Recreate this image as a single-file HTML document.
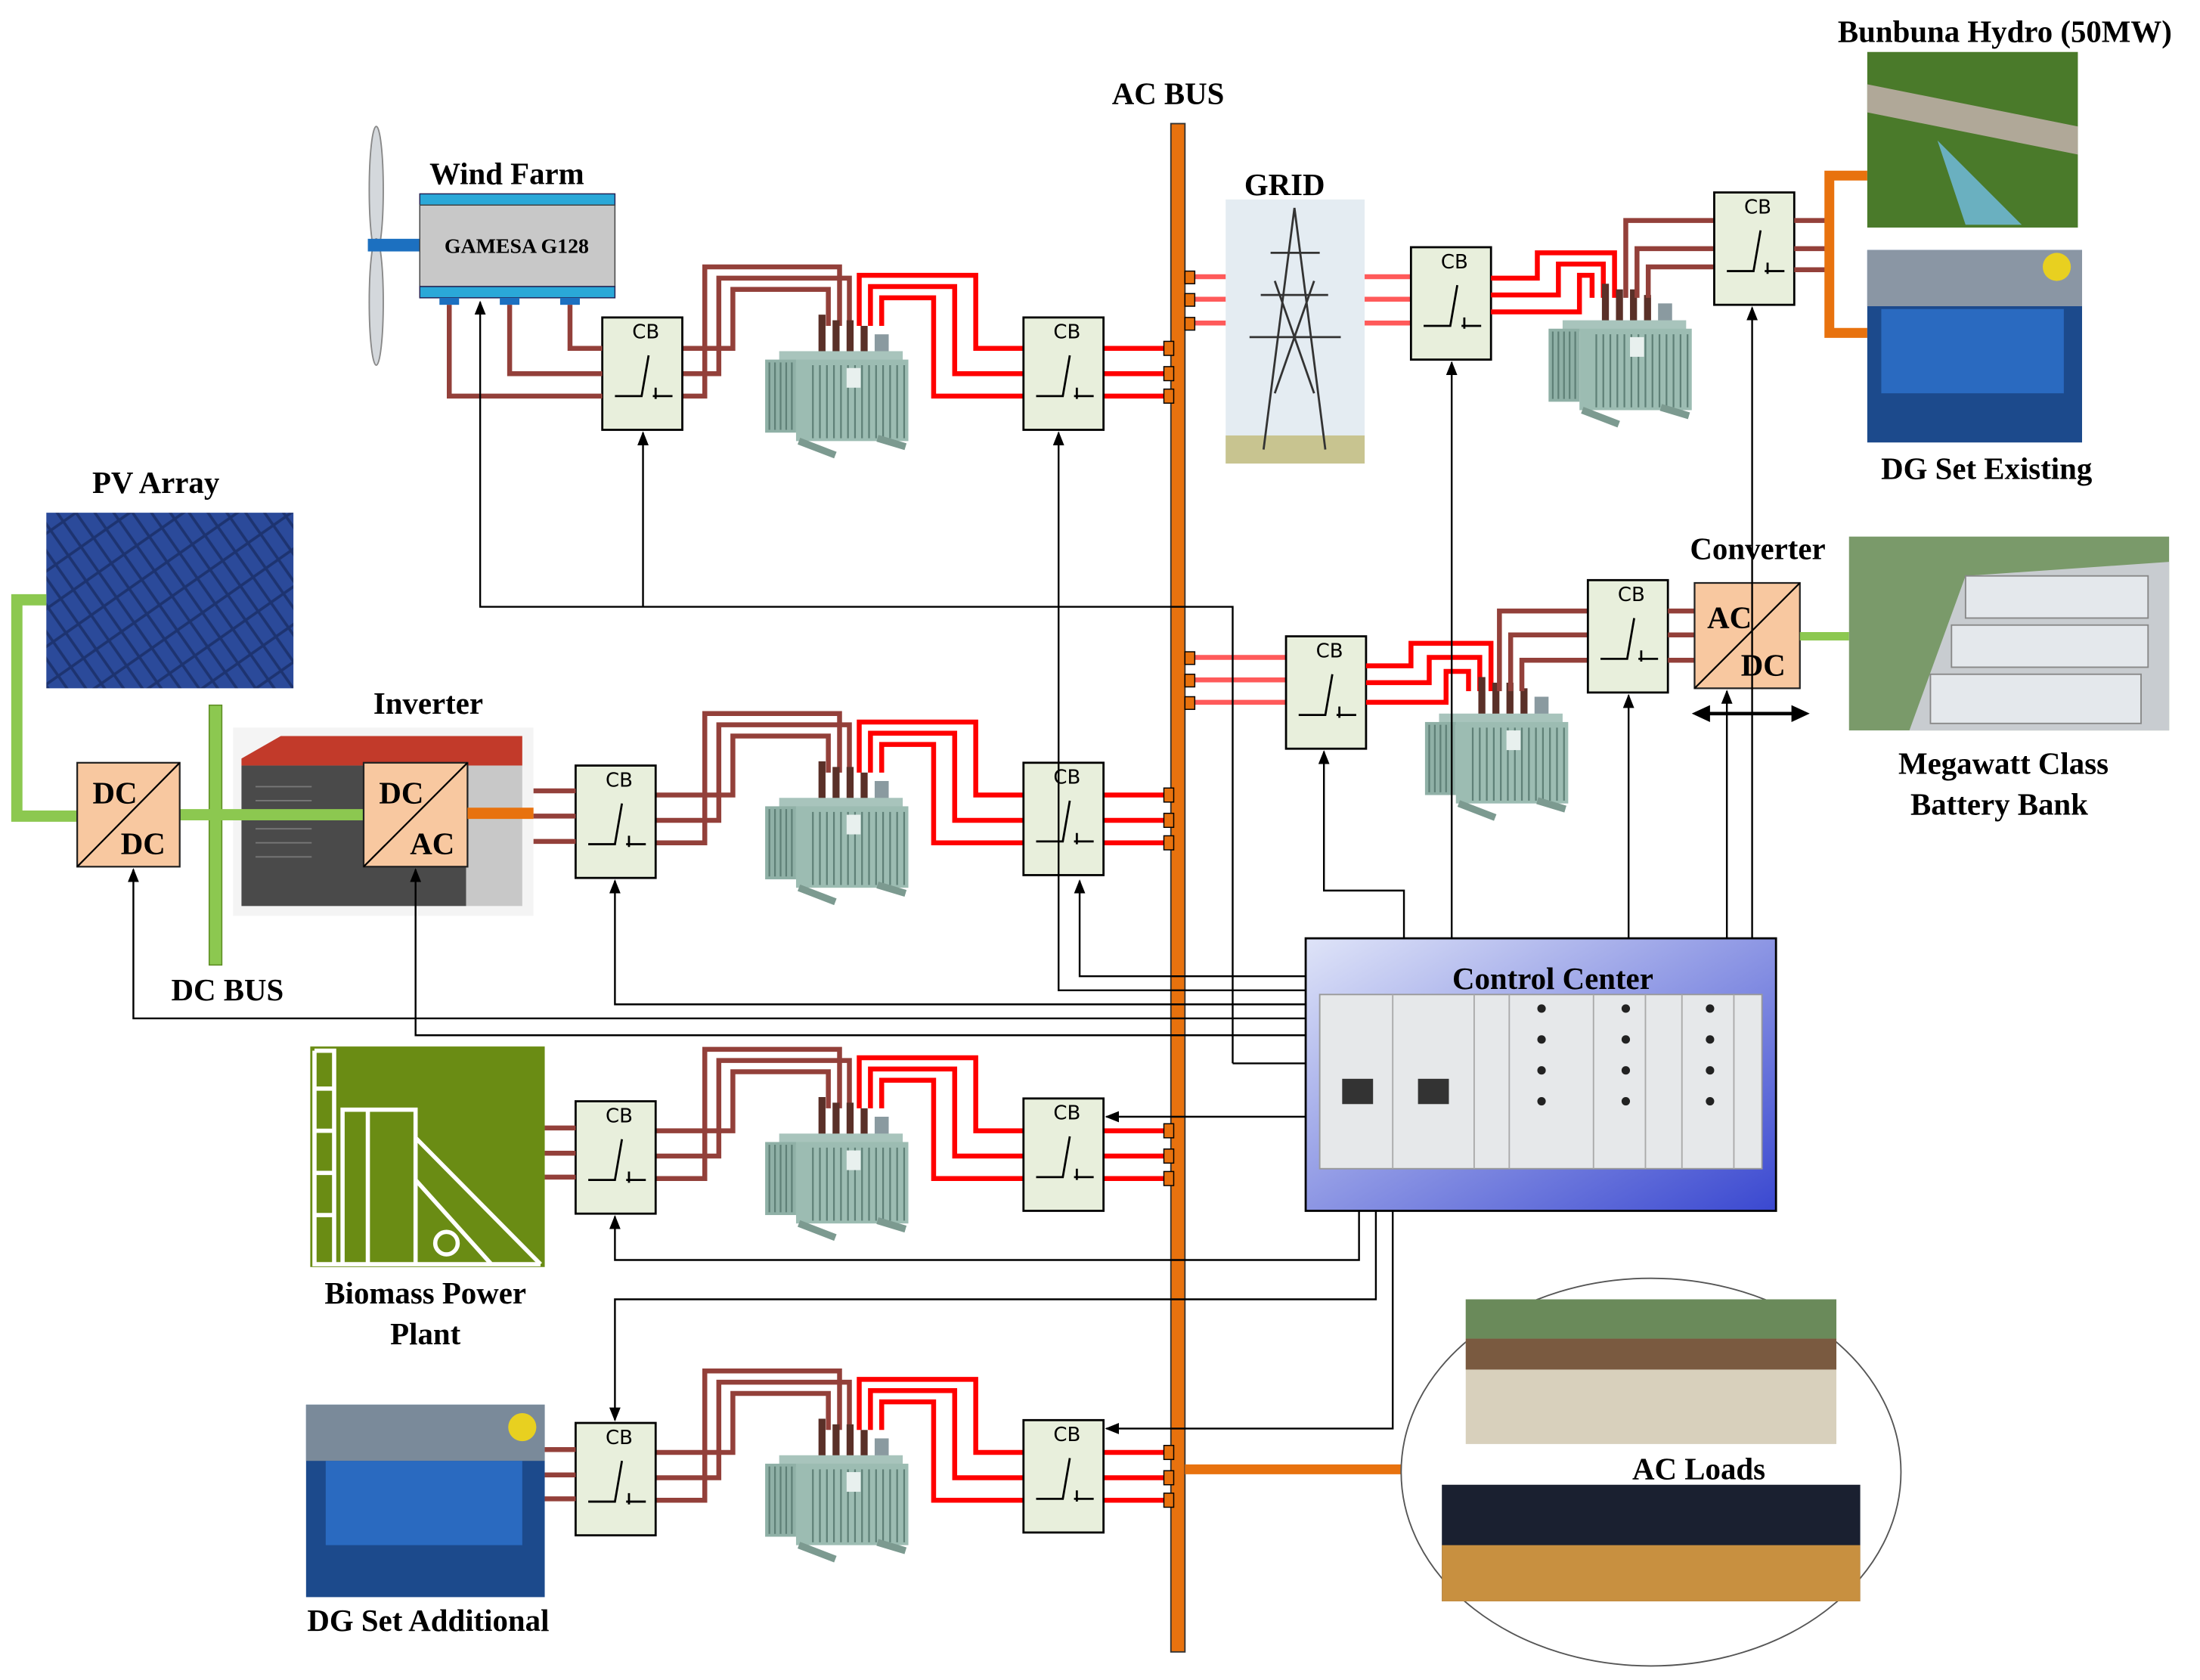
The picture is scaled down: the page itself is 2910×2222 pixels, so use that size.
<!DOCTYPE html>
<html><head><meta charset="utf-8"><style>
html,body{margin:0;padding:0;background:#fff}
svg{display:block}
.lb{font-family:"Liberation Serif",serif;font-weight:bold;font-size:22px;fill:#000}
.cb{font-family:"DejaVu Sans","Liberation Sans",sans-serif;font-size:14px;fill:#000}
.br{fill:none;stroke:#93403a;stroke-width:3.5}
.rd{fill:none;stroke:#ff0000;stroke-width:3.5}
.lr{fill:none;stroke:#ff5a5a;stroke-width:3.5}
.ct{fill:none;stroke:#000;stroke-width:1.3}
</style></head><body>
<svg width="2910" height="2222" viewBox="0 0 1567 1196" preserveAspectRatio="none" xmlns="http://www.w3.org/2000/svg">
<defs>
<marker id="ar" markerWidth="10" markerHeight="10" refX="9" refY="5" orient="auto" markerUnits="userSpaceOnUse"><path d="M0,1 L10,5 L0,9 z" fill="#000"/></marker>
<g id="cbx">
<rect x="0" y="0" width="57" height="80" fill="#e8efdc" stroke="#000" stroke-width="1.5"/>
<path d="M9,56 L28,56 L33,27 M36,56 L50,56 M38,50 L38,58" fill="none" stroke="#000" stroke-width="1.5"/>
</g>
<g id="tx">
<rect x="38" y="-8" width="5" height="30" fill="#5a3028"/><rect x="48" y="-4" width="5" height="26" fill="#5a3028"/><rect x="58" y="-4" width="5" height="26" fill="#5a3028"/><rect x="68" y="0" width="5" height="22" fill="#5a3028"/><rect x="78" y="6" width="10" height="14" fill="#8a9aa0"/>
<rect x="10" y="18" width="88" height="8" fill="#a8c4bc"/>
<rect x="0" y="24" width="22" height="52" fill="#8fb0a6"/>
<rect x="22" y="24" width="80" height="58" fill="#9cbcb2"/>
<g stroke="#5f8077" stroke-width="1.2">
<path d="M3,26V74M7,26V74M11,26V74M15,26V74M19,26V74M34,28V80M39,28V80M44,28V80M49,28V80M54,28V80M59,28V80M64,28V80M69,28V80M74,28V80M79,28V80M84,28V80M89,28V80M94,28V80M99,28V80"/>
</g>
<rect x="58" y="30" width="10" height="14" fill="#e8f0ee"/>
<path d="M24,82 L50,92 M80,80 L100,86" stroke="#7c9a90" stroke-width="5"/>
</g>
<g id="feed">
<path class="br" d="M467,248 H522 V206 H590 V232"/>
<path class="br" d="M467,266 H512 V198 H605 V232"/>
<path class="br" d="M467,282 H502 V190 H598 V232"/>
<path class="rd" d="M612,232 V196 H695 V248 H729"/>
<path class="rd" d="M620,232 V204 H680 V266 H729"/>
<path class="rd" d="M628,232 V212 H665 V282 H729"/>
<path class="rd" d="M786,248 H832 M786,266 H832 M786,282 H832"/>
<rect x="829" y="243" width="7" height="10" fill="#e8720e" stroke="#000" stroke-width="0.8"/>
<rect x="829" y="261" width="7" height="10" fill="#e8720e" stroke="#000" stroke-width="0.8"/>
<rect x="829" y="277" width="7" height="10" fill="#e8720e" stroke="#000" stroke-width="0.8"/>
<use href="#tx" x="545" y="232"/>
</g>
<linearGradient id="cc" x1="0" y1="0" x2="1" y2="1"><stop offset="0" stop-color="#dfe4f8"/><stop offset="1" stop-color="#3a48d0"/></linearGradient>
<pattern id="pv" width="22" height="22" patternUnits="userSpaceOnUse" patternTransform="rotate(-35)"><rect width="22" height="22" fill="#1d3370"/><rect x="1" y="1" width="9" height="20" fill="#2b4a9a"/><rect x="12" y="1" width="9" height="20" fill="#2b4a9a"/></pattern>
</defs>

<rect x="834" y="88" width="10" height="1088" fill="#e8720e" stroke="#333" stroke-width="1"/>
<text class="lb" x="832" y="74" text-anchor="middle">AC BUS</text>

<use href="#feed"/>
<use href="#feed" y="318"/>
<use href="#feed" y="557"/>
<use href="#feed" y="786"/>
<use href="#cbx" x="429" y="226"/><text class="cb" x="460" y="241" text-anchor="middle">CB</text>
<use href="#cbx" x="729" y="226"/><text class="cb" x="760" y="241" text-anchor="middle">CB</text>
<use href="#cbx" x="410" y="545"/><text class="cb" x="441" y="560" text-anchor="middle">CB</text>
<use href="#cbx" x="729" y="543"/><text class="cb" x="760" y="558" text-anchor="middle">CB</text>
<use href="#cbx" x="410" y="784"/><text class="cb" x="441" y="799" text-anchor="middle">CB</text>
<use href="#cbx" x="729" y="782"/><text class="cb" x="760" y="797" text-anchor="middle">CB</text>
<use href="#cbx" x="410" y="1013"/><text class="cb" x="441" y="1028" text-anchor="middle">CB</text>
<use href="#cbx" x="729" y="1011"/><text class="cb" x="760" y="1026" text-anchor="middle">CB</text>

<ellipse cx="268" cy="135" rx="5" ry="45" fill="#d4d8dc" stroke="#888"/>
<ellipse cx="268" cy="215" rx="5" ry="45" fill="#d4d8dc" stroke="#888"/>
<rect x="262" y="170" width="38" height="9" fill="#1c70c0"/>
<rect x="299" y="138" width="139" height="8" fill="#2aa8d8" stroke="#225" stroke-width="0.8"/>
<rect x="299" y="146" width="139" height="58" fill="#c8c8c8" stroke="#444" stroke-width="0.8"/>
<rect x="299" y="204" width="139" height="8" fill="#2aa8d8" stroke="#225" stroke-width="0.8"/>
<rect x="313" y="212" width="14" height="5" fill="#1c70c0"/><rect x="356" y="212" width="14" height="5" fill="#1c70c0"/><rect x="399" y="212" width="14" height="5" fill="#1c70c0"/>
<text x="368" y="180" text-anchor="middle" style="font-family:'Liberation Serif',serif;font-weight:bold;font-size:15px">GAMESA G128</text>
<text class="lb" x="361" y="131" text-anchor="middle">Wind Farm</text>
<path class="br" d="M320,217 V282 H429 M363,217 V266 H429 M406,217 V248 H429"/>

<rect x="33" y="365" width="176" height="125" fill="url(#pv)"/>
<text class="lb" x="111" y="351" text-anchor="middle">PV Array</text>
<path d="M33,427 H12 V581 H55" fill="none" stroke="#8cc850" stroke-width="8"/>
<rect x="149" y="502" width="9" height="185" fill="#8cc850" stroke="#5a8a20" stroke-width="0.8"/>
<text class="lb" x="162" y="712" text-anchor="middle">DC BUS</text>
<rect x="166" y="518" width="214" height="134" fill="#f4f4f4"/>
<path d="M172,540 L200,524 L372,524 L372,545 L172,545 z" fill="#c23a2a"/>
<rect x="172" y="545" width="160" height="100" fill="#4a4a4a"/>
<rect x="332" y="545" width="40" height="100" fill="#c8c8c8"/>
<g stroke="#777" stroke-width="1"><path d="M182,560h40M182,570h40M182,580h40M182,590h40M182,600h40M182,610h40"/></g>
<text class="lb" x="305" y="508" text-anchor="middle">Inverter</text>
<path d="M128,580 H260" stroke="#8cc850" stroke-width="8"/>
<rect x="55" y="543" width="73" height="74" fill="#f8c8a0" stroke="#222" stroke-width="1.2"/>
<path d="M55,617 L128,543" stroke="#000" stroke-width="1.2"/>
<text class="lb" x="66" y="572">DC</text><text class="lb" x="86" y="608">DC</text>
<rect x="259" y="543" width="74" height="74" fill="#f8c8a0" stroke="#222" stroke-width="1.2"/>
<path d="M259,617 L333,543" stroke="#000" stroke-width="1.2"/>
<text class="lb" x="270" y="572">DC</text><text class="lb" x="292" y="608">AC</text>
<path d="M333,579 H380" stroke="#e8720e" stroke-width="8"/>
<path class="br" d="M380,563 H410 M380,581 H410 M380,599 H410"/>

<rect x="221" y="745" width="167" height="157" fill="#6a8c14"/>
<g fill="none" stroke="#fff" stroke-width="3">
<path d="M224,748 V900 H385 M224,748 H238 V900 M224,775 H238 M224,805 H238 M224,835 H238 M224,865 H238"/>
<path d="M244,900 V790 H296 V900 M262,790 V900 M296,810 L385,900 M296,840 L350,900"/>
<circle cx="318" cy="885" r="8"/>
</g>
<text class="lb" x="303" y="928" text-anchor="middle">Biomass Power</text>
<text class="lb" x="303" y="957" text-anchor="middle">Plant</text>
<path class="br" d="M388,803 H410 M388,821 H410 M388,838 H410"/>

<rect x="218" y="1000" width="170" height="137" fill="#1c4a8c"/>
<rect x="218" y="1000" width="170" height="40" fill="#7a8a9a"/>
<rect x="232" y="1040" width="140" height="60" fill="#2a6ac0"/>
<circle cx="372" cy="1016" r="10" fill="#e8d020"/>
<text class="lb" x="305" y="1161" text-anchor="middle">DG Set Additional</text>
<path class="br" d="M388,1032 H410 M388,1050 H410 M388,1067 H410"/>

<rect x="873" y="142" width="99" height="188" fill="#e4ecf2"/>
<rect x="873" y="310" width="99" height="20" fill="#c8c490"/>
<path d="M922,148 L900,320 M922,148 L944,320 M905,180 H940 M898,210 H946 M890,240 H955 M908,200 L936,280 M936,200 L908,280" stroke="#333" stroke-width="1.5" fill="none"/>
<text class="lb" x="915" y="139" text-anchor="middle">GRID</text>
<path class="lr" d="M844,197 H873 M844,213 H873 M844,230 H873 M972,197 H1005 M972,213 H1005 M972,230 H1005"/>
<rect x="844" y="193" width="7" height="9" fill="#e8720e" stroke="#000" stroke-width="0.8"/>
<rect x="844" y="209" width="7" height="9" fill="#e8720e" stroke="#000" stroke-width="0.8"/>
<rect x="844" y="226" width="7" height="9" fill="#e8720e" stroke="#000" stroke-width="0.8"/>
<use href="#cbx" x="1005" y="176"/><text class="cb" x="1036" y="191" text-anchor="middle">CB</text>
<path class="rd" d="M1062,198 H1095 V180 H1150 V212 M1062,210 H1110 V188 H1142 V212 M1062,222 H1125 V196 H1134 V212"/>
<use href="#tx" x="1103" y="210"/>
<path class="br" d="M1158,212 V157 H1221 M1166,212 V177 H1221 M1174,212 V190 H1221"/>
<use href="#cbx" x="1221" y="137"/><text class="cb" x="1252" y="152" text-anchor="middle">CB</text>
<path class="br" d="M1278,157 H1302 M1278,177 H1302 M1278,192 H1302"/>
<path d="M1330,125 H1303 V237 H1330" fill="none" stroke="#e8720e" stroke-width="7"/>
<rect x="1330" y="37" width="150" height="125" fill="#4a7a2a"/>
<path d="M1330,60 L1480,90 L1480,110 L1330,80 z" fill="#b0a898"/>
<path d="M1380,100 L1440,160 L1400,160 z" fill="#6ab0c0"/>
<text class="lb" x="1428" y="30" text-anchor="middle">Bunbuna Hydro (50MW)</text>
<rect x="1330" y="178" width="153" height="137" fill="#1c4a8c"/>
<rect x="1330" y="178" width="153" height="40" fill="#8a96a4"/>
<rect x="1340" y="220" width="130" height="60" fill="#2a6ac0"/>
<circle cx="1465" cy="190" r="10" fill="#e8d020"/>
<text class="lb" x="1415" y="341" text-anchor="middle">DG Set Existing</text>

<path class="lr" d="M844,468 H916 M844,484 H916 M844,500 H916"/>
<rect x="844" y="464" width="7" height="9" fill="#e8720e" stroke="#000" stroke-width="0.8"/>
<rect x="844" y="480" width="7" height="9" fill="#e8720e" stroke="#000" stroke-width="0.8"/>
<rect x="844" y="496" width="7" height="9" fill="#e8720e" stroke="#000" stroke-width="0.8"/>
<use href="#cbx" x="916" y="453"/><text class="cb" x="947" y="468" text-anchor="middle">CB</text>
<path class="rd" d="M973,474 H1005 V458 H1062 V492 M973,486 H1018 V468 H1054 V492 M973,500 H1030 V478 H1046 V492"/>
<use href="#tx" x="1015" y="490"/>
<path class="br" d="M1068,492 V435 H1131 M1076,492 V452 H1131 M1084,492 V470 H1131"/>
<use href="#cbx" x="1131" y="413"/><text class="cb" x="1162" y="428" text-anchor="middle">CB</text>
<path class="br" d="M1188,435 H1207 M1188,452 H1207 M1188,470 H1207"/>
<rect x="1207" y="415" width="75" height="75" fill="#f8c8a0" stroke="#222" stroke-width="1.2"/>
<path d="M1207,490 L1282,415" stroke="#000" stroke-width="1.2"/>
<text class="lb" x="1216" y="447">AC</text><text class="lb" x="1240" y="481">DC</text>
<text class="lb" x="1252" y="398" text-anchor="middle">Converter</text>
<path d="M1282,453 H1317" stroke="#8cc850" stroke-width="6"/>
<path d="M1212,508 H1282" stroke="#000" stroke-width="2.5"/>
<path d="M1205,508 L1218,502 L1218,514 z M1289,508 L1276,502 L1276,514 z"/>
<rect x="1317" y="382" width="228" height="138" fill="#7a9a6a"/>
<path d="M1360,520 L1400,410 L1545,400 L1545,520 z" fill="#c8ccd0"/>
<g fill="#e4e8ec" stroke="#888"><rect x="1400" y="410" width="130" height="30"/><rect x="1390" y="445" width="140" height="30"/><rect x="1375" y="480" width="150" height="35"/></g>
<text class="lb" x="1427" y="551" text-anchor="middle">Megawatt Class</text>
<text class="lb" x="1424" y="580" text-anchor="middle">Battery Bank</text>

<rect x="930" y="668" width="335" height="194" fill="url(#cc)" stroke="#000" stroke-width="1.5"/>
<text class="lb" x="1106" y="704" text-anchor="middle">Control Center</text>
<rect x="940" y="708" width="315" height="124" fill="#e6e8ea" stroke="#999"/>
<g stroke="#aaa" fill="none"><path d="M992,708V832M1050,708V832M1075,708V832M1135,708V832M1172,708V832M1198,708V832M1235,708V832"/></g>
<rect x="956" y="768" width="22" height="18" fill="#333"/><rect x="1010" y="768" width="22" height="18" fill="#333"/>
<g fill="#222"><circle cx="1098" cy="718" r="3"/><circle cx="1098" cy="740" r="3"/><circle cx="1098" cy="762" r="3"/><circle cx="1098" cy="784" r="3"/><circle cx="1158" cy="718" r="3"/><circle cx="1158" cy="740" r="3"/><circle cx="1158" cy="762" r="3"/><circle cx="1158" cy="784" r="3"/><circle cx="1218" cy="718" r="3"/><circle cx="1218" cy="740" r="3"/><circle cx="1218" cy="762" r="3"/><circle cx="1218" cy="784" r="3"/></g>

<g class="ct">
<path d="M878,757 V432 H342 V215" marker-end="url(#ar)"/>
<path d="M878,757 H930"/>
<path d="M458,432 V308" marker-end="url(#ar)"/>
<path d="M930,705 H754 V308" marker-end="url(#ar)"/>
<path d="M930,695 H769 V627" marker-end="url(#ar)"/>
<path d="M930,715 H438 V627" marker-end="url(#ar)"/>
<path d="M930,725 H95 V619" marker-end="url(#ar)"/>
<path d="M930,737 H296 V619" marker-end="url(#ar)"/>
<path d="M930,795 H788" marker-end="url(#ar)"/>
<path d="M968,862 V897 H438 V866" marker-end="url(#ar)"/>
<path d="M980,862 V925 H438 V1011" marker-end="url(#ar)"/>
<path d="M992,862 V1017 H788" marker-end="url(#ar)"/>
<path d="M1034,668 V258" marker-end="url(#ar)"/>
<path d="M1160,668 V495" marker-end="url(#ar)"/>
<path d="M1230,668 V492" marker-end="url(#ar)"/>
<path d="M1248,668 V219" marker-end="url(#ar)"/>
<path d="M1000,668 V634 H943 V535" marker-end="url(#ar)"/>
</g>

<path d="M844,1046 H998" stroke="#e8720e" stroke-width="7"/>
<ellipse cx="1176" cy="1048" rx="178" ry="138" fill="none" stroke="#555" stroke-width="1"/>
<rect x="1044" y="925" width="264" height="103" fill="#d8d0bc"/>
<rect x="1044" y="925" width="264" height="28" fill="#6a8a5a"/>
<rect x="1044" y="953" width="264" height="22" fill="#7a5a40"/>
<rect x="1027" y="1057" width="298" height="83" fill="#1a2030"/>
<rect x="1027" y="1100" width="298" height="40" fill="#c89040"/>
<text class="lb" x="1210" y="1053" text-anchor="middle">AC Loads</text>
</svg>
</body></html>
